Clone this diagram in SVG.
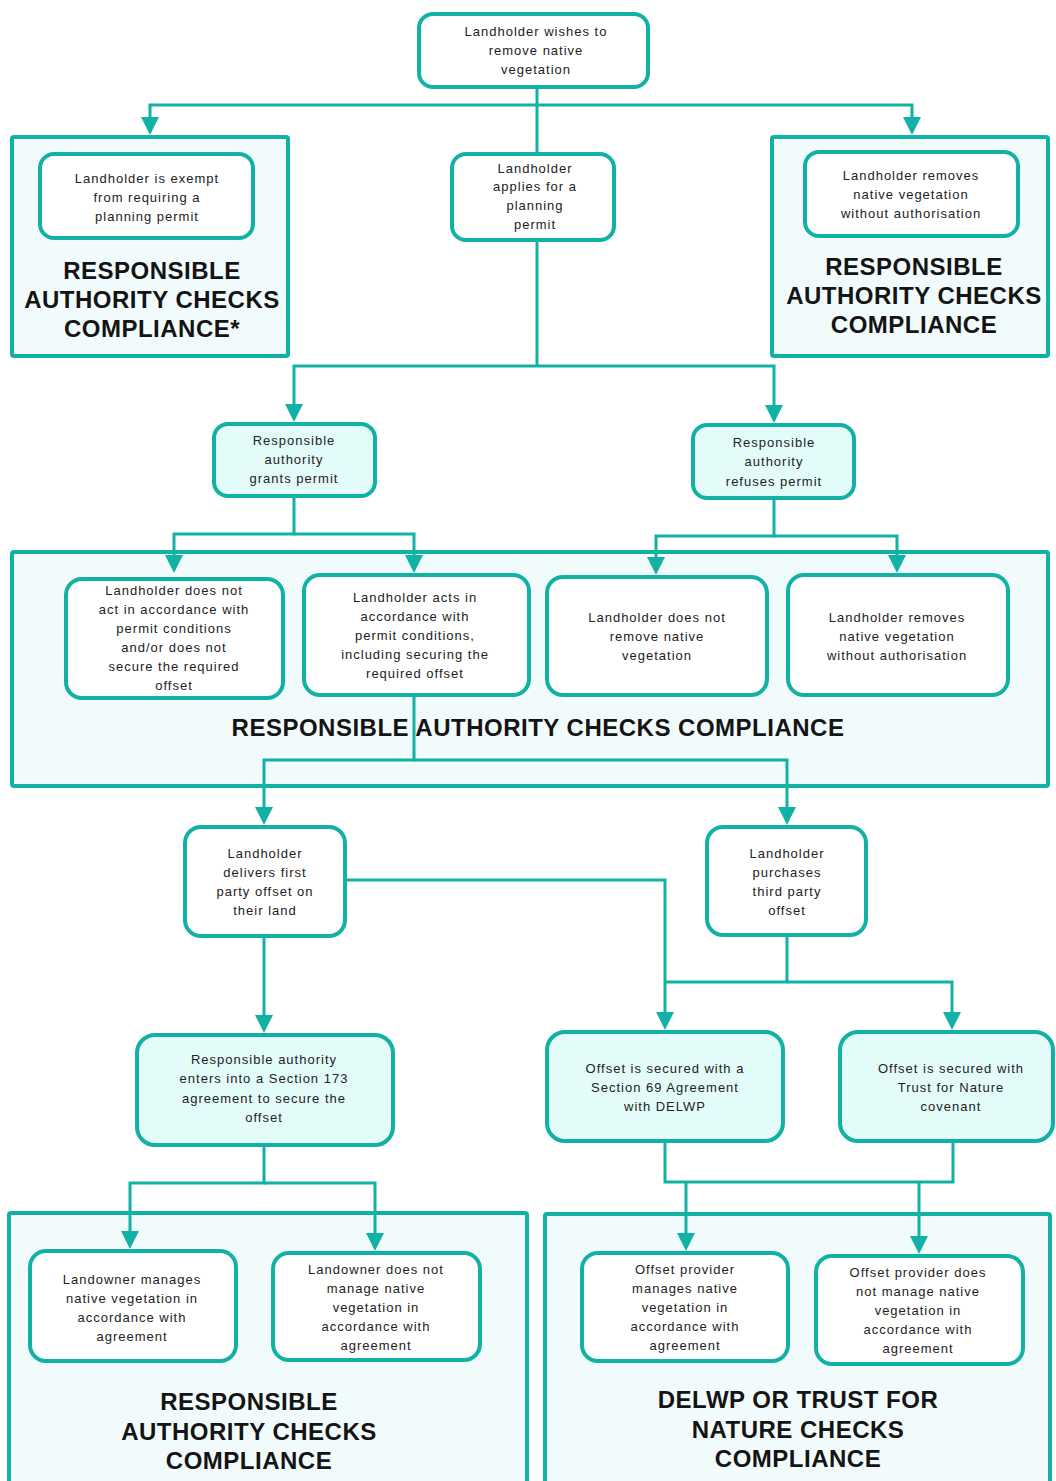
<svg xmlns="http://www.w3.org/2000/svg" width="1056" height="1481" viewBox="0 0 1056 1481">
<defs>
<style>
.box{stroke:#12B1A5;stroke-width:4;}
.n{fill:#FFFFFF;}
.nc{fill:#E3FCFA;}
.c{fill:#F2FBFC;stroke:#12B1A5;stroke-width:4;}
.t{font-family:"Liberation Sans",Arial,sans-serif;font-size:13px;letter-spacing:1px;fill:#222;text-anchor:middle;}
.h{font-family:"Liberation Sans",Arial,sans-serif;font-size:24px;font-weight:bold;letter-spacing:0.5px;fill:#141414;text-anchor:middle;}
.k{fill:none;stroke:#12B1A5;stroke-width:3;}
.a{marker-end:url(#arr);}
</style>
<marker id="arr" markerUnits="userSpaceOnUse" viewBox="0 0 18 18" refX="12" refY="9" markerWidth="18" markerHeight="18" orient="auto">
<path d="M0,0 L18,9 L0,18 Z" fill="#12B1A5"/>
</marker>
</defs>
<rect width="1056" height="1481" fill="#FFFFFF"/>

<g id="containers">
<rect id="c-exempt" class="c" x="12" y="137" width="276" height="219" rx="2"/>
<rect id="c-unauth" class="c" x="772" y="137" width="276" height="219" rx="2"/>
<rect id="c-permit" class="c" x="12" y="552" width="1036" height="234" rx="2"/>
<rect id="c-ra" class="c" x="9" y="1213" width="518" height="300" rx="2"/>
<rect id="c-delwp" class="c" x="545" y="1214" width="505" height="300" rx="2"/>
<text class="h" x="152" y="279">RESPONSIBLE</text>
<text class="h" x="152" y="308">AUTHORITY CHECKS</text>
<text class="h" x="152" y="337">COMPLIANCE*</text>
<text class="h" x="914" y="275">RESPONSIBLE</text>
<text class="h" x="914" y="304">AUTHORITY CHECKS</text>
<text class="h" x="914" y="333">COMPLIANCE</text>
<text class="h" x="538" y="736">RESPONSIBLE AUTHORITY CHECKS COMPLIANCE</text>
<text class="h" x="249" y="1410">RESPONSIBLE</text>
<text class="h" x="249" y="1440">AUTHORITY CHECKS</text>
<text class="h" x="249" y="1469">COMPLIANCE</text>
<text class="h" x="798" y="1408">DELWP OR TRUST FOR</text>
<text class="h" x="798" y="1438">NATURE CHECKS</text>
<text class="h" x="798" y="1467">COMPLIANCE</text>
</g>

<g id="n-start">
<rect class="box n" x="419" y="14" width="229" height="73" rx="14"/>
<text class="t" x="536" y="36">Landholder wishes to</text>
<text class="t" x="536" y="55">remove native</text>
<text class="t" x="536" y="74">vegetation</text>
</g>

<g id="n-exempt">
<rect class="box n" x="40" y="154" width="213" height="84" rx="14"/>
<text class="t" x="147" y="183">Landholder is exempt</text>
<text class="t" x="147" y="202">from requiring a</text>
<text class="t" x="147" y="221">planning permit</text>
</g>

<g id="n-applies">
<rect class="box n" x="452" y="154" width="162" height="86" rx="14"/>
<text class="t" x="535" y="173">Landholder</text>
<text class="t" x="535" y="191">applies for a</text>
<text class="t" x="535" y="210">planning</text>
<text class="t" x="535" y="229">permit</text>
</g>

<g id="n-unauth1">
<rect class="box n" x="805" y="152" width="213" height="84" rx="14"/>
<text class="t" x="911" y="180">Landholder removes</text>
<text class="t" x="911" y="199">native vegetation</text>
<text class="t" x="911" y="218">without authorisation</text>
</g>

<g id="n-grants">
<rect class="box nc" x="214" y="424" width="161" height="72" rx="14"/>
<text class="t" x="294" y="445">Responsible</text>
<text class="t" x="294" y="464">authority</text>
<text class="t" x="294" y="483">grants permit</text>
</g>

<g id="n-refuses">
<rect class="box nc" x="693" y="425" width="161" height="73" rx="14"/>
<text class="t" x="774" y="447">Responsible</text>
<text class="t" x="774" y="466">authority</text>
<text class="t" x="774" y="486">refuses permit</text>
</g>

<g id="n-notact">
<rect class="box n" x="66" y="579" width="217" height="119" rx="16"/>
<text class="t" x="174" y="595">Landholder does not</text>
<text class="t" x="174" y="614">act in accordance with</text>
<text class="t" x="174" y="633">permit conditions</text>
<text class="t" x="174" y="652">and/or does not</text>
<text class="t" x="174" y="671">secure the required</text>
<text class="t" x="174" y="690">offset</text>
</g>

<g id="n-acts">
<rect class="box n" x="304" y="575" width="225" height="120" rx="16"/>
<text class="t" x="415" y="602">Landholder acts in</text>
<text class="t" x="415" y="621">accordance with</text>
<text class="t" x="415" y="640">permit conditions,</text>
<text class="t" x="415" y="659">including securing the</text>
<text class="t" x="415" y="678">required offset</text>
</g>

<g id="n-notremove">
<rect class="box n" x="547" y="577" width="220" height="118" rx="16"/>
<text class="t" x="657" y="622">Landholder does not</text>
<text class="t" x="657" y="641">remove native</text>
<text class="t" x="657" y="660">vegetation</text>
</g>

<g id="n-unauth2">
<rect class="box n" x="788" y="575" width="220" height="120" rx="16"/>
<text class="t" x="897" y="622">Landholder removes</text>
<text class="t" x="897" y="641">native vegetation</text>
<text class="t" x="897" y="660">without authorisation</text>
</g>

<g id="n-firstparty">
<rect class="box n" x="185" y="827" width="160" height="109" rx="16"/>
<text class="t" x="265" y="858">Landholder</text>
<text class="t" x="265" y="877">delivers first</text>
<text class="t" x="265" y="896">party offset on</text>
<text class="t" x="265" y="915">their land</text>
</g>

<g id="n-thirdparty">
<rect class="box n" x="707" y="827" width="159" height="108" rx="16"/>
<text class="t" x="787" y="858">Landholder</text>
<text class="t" x="787" y="877">purchases</text>
<text class="t" x="787" y="896">third party</text>
<text class="t" x="787" y="915">offset</text>
</g>

<g id="n-s173">
<rect class="box nc" x="137" y="1035" width="256" height="110" rx="18"/>
<text class="t" x="264" y="1064">Responsible authority</text>
<text class="t" x="264" y="1083">enters into a Section 173</text>
<text class="t" x="264" y="1103">agreement to secure the</text>
<text class="t" x="264" y="1122">offset</text>
</g>

<g id="n-s69">
<rect class="box nc" x="547" y="1032" width="236" height="109" rx="18"/>
<text class="t" x="665" y="1073">Offset is secured with  a</text>
<text class="t" x="665" y="1092">Section 69 Agreement</text>
<text class="t" x="665" y="1111">with DELWP</text>
</g>

<g id="n-trust">
<rect class="box nc" x="840" y="1032" width="213" height="109" rx="18"/>
<text class="t" x="951" y="1073">Offset is secured with</text>
<text class="t" x="951" y="1092">Trust for Nature</text>
<text class="t" x="951" y="1111">covenant</text>
</g>

<g id="n-lo-manages">
<rect class="box n" x="30" y="1251" width="206" height="110" rx="16"/>
<text class="t" x="132" y="1284">Landowner  manages</text>
<text class="t" x="132" y="1303">native vegetation in</text>
<text class="t" x="132" y="1322">accordance with</text>
<text class="t" x="132" y="1341">agreement</text>
</g>

<g id="n-lo-notmanage">
<rect class="box n" x="273" y="1253" width="207" height="107" rx="16"/>
<text class="t" x="376" y="1274">Landowner  does not</text>
<text class="t" x="376" y="1293">manage native</text>
<text class="t" x="376" y="1312">vegetation  in</text>
<text class="t" x="376" y="1331">accordance with</text>
<text class="t" x="376" y="1350">agreement</text>
</g>

<g id="n-op-manages">
<rect class="box n" x="582" y="1253" width="206" height="108" rx="16"/>
<text class="t" x="685" y="1274">Offset provider</text>
<text class="t" x="685" y="1293">manages native</text>
<text class="t" x="685" y="1312">vegetation in</text>
<text class="t" x="685" y="1331">accordance with</text>
<text class="t" x="685" y="1350">agreement</text>
</g>

<g id="n-op-notmanage">
<rect class="box n" x="816" y="1256" width="207" height="108" rx="16"/>
<text class="t" x="918" y="1277">Offset provider does</text>
<text class="t" x="918" y="1296">not manage native</text>
<text class="t" x="918" y="1315">vegetation in</text>
<text class="t" x="918" y="1334">accordance with</text>
<text class="t" x="918" y="1353">agreement</text>
</g>

<g id="connectors">
<path class="k" d="M537,87 V154"/>
<path class="k a" d="M537,105 H150 V129"/>
<path class="k a" d="M537,105 H912 V129"/>
<path class="k" d="M537,240 V366"/>
<path class="k a" d="M537,366 H294 V416"/>
<path class="k a" d="M537,366 H774 V417"/>
<path class="k a" d="M294,496 V534 H174 V567"/>
<path class="k a" d="M294,534 H414 V567"/>
<path class="k a" d="M774,498 V536 H656 V569"/>
<path class="k a" d="M774,536 H897 V567"/>
<path class="k a" d="M414,695 V760 H264 V819"/>
<path class="k a" d="M414,760 H787 V819"/>
<path class="k a" d="M345,880 H665 V1024"/>
<path class="k a" d="M264,936 V1027"/>
<path class="k" d="M787,935 V982 H665"/>
<path class="k a" d="M787,982 H952 V1024"/>
<path class="k a" d="M264,1145 V1183 H130 V1243"/>
<path class="k a" d="M264,1183 H375 V1245"/>
<path class="k" d="M665,1141 V1182 H953 V1141"/>
<path class="k a" d="M686,1182 V1245"/>
<path class="k a" d="M919,1182 V1248"/>
</g>
</svg>
